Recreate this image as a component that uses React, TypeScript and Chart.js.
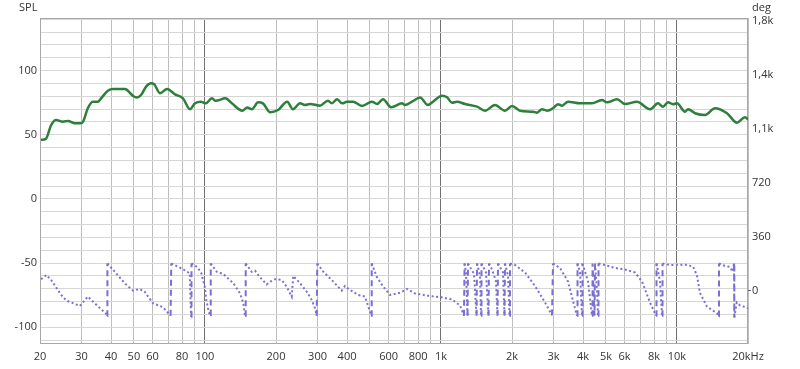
import React, { useEffect, useRef } from 'react';
import { Chart, registerables } from 'chart.js';

Chart.register(...registerables);

// SPL magnitude (dB) vs frequency (Hz)
const splFreq = [20.2, 21.2, 22.3, 23.4, 25, 26.3, 28.1, 29.8, 30.4, 31.9, 33.5, 35.2, 36.3, 38.8, 40.8, 45.8, 46.7, 49.6, 51.5, 53.6, 56.3, 59.1, 60.8, 64.5, 69.1, 74.7, 80.7, 86.4, 90.8, 96.2, 101, 107, 111, 122, 130, 144, 151, 158, 168, 176, 189, 204, 223, 236, 253, 265, 279, 307, 332, 345, 363, 381, 400, 424, 463, 510, 536, 568, 615, 684, 704, 754, 815, 881, 925, 1010, 1061, 1114, 1170, 1264, 1422, 1537, 1694, 1868, 2000, 2162, 2455, 2553, 2680, 2814, 2984, 3133, 3258, 3454, 3884, 4366, 4813, 5053, 5572, 6024, 6771, 7686, 8311, 8728, 9162, 9620, 10002, 10818, 11138, 11926, 13148, 14496, 16296, 17966, 19424, 20000];
const splDb = [46, 47, 57.6, 61.5, 60.2, 60.8, 59, 59, 60, 70.7, 75.8, 75.8, 78.4, 84.4, 85.7, 85.7, 85, 80.2, 79, 81, 87.5, 90.1, 89.6, 82.4, 85.7, 81.5, 78.4, 70, 74.5, 75.8, 74.5, 78.4, 76.5, 78.4, 74.5, 68.8, 71.2, 69.9, 75.3, 74.5, 67.5, 69.3, 75.8, 69.9, 74.5, 73.2, 74, 72.7, 76.6, 74.5, 77.7, 74.5, 75.8, 75.8, 72.5, 75.8, 74, 77.7, 71.5, 74.5, 73.2, 75.8, 79, 73.2, 75.8, 80.5, 79.2, 75, 75.8, 74, 71.9, 68.8, 73.2, 68.8, 72.5, 68.8, 68, 67.2, 69.9, 68.8, 70.7, 73.8, 72.7, 75.8, 74.5, 74.5, 77.1, 75.3, 77.7, 74, 75.8, 69.9, 74.5, 71.9, 75.3, 73.8, 74.5, 68, 69.9, 66.8, 65.4, 70.7, 66.8, 59.4, 63.7, 62];

// Phase (deg) vs frequency (Hz), wrapped
const phaseFreq = [20.2, 21.3, 22.3, 24.6, 25.9, 29.5, 31.9, 34.1, 38.2, 38.5, 38.6, 41.5, 45.7, 49.6, 52.9, 55.5, 60.2, 66.4, 71.5, 72.0, 79.4, 86.2, 87.3, 87.7, 90.5, 93.5, 96.5, 99.8, 101.3, 103.7, 105.1, 105.8, 112.2, 119.6, 131.9, 140.8, 145.4, 147.8, 148.8, 157.8, 162.9, 171.0, 182.6, 189.1, 198.1, 211.4, 222.0, 233.1, 236.8, 253.0, 269.9, 283.4, 292.7, 297.6, 299.2, 317.3, 349.8, 379.7, 392.2, 411.7, 446.5, 476.7, 500.5, 505.4, 508.9, 534.3, 569.8, 608, 670.6, 718, 776, 881, 1000, 1114, 1204, 1252, 1259, 1277, 1296, 1302, 1381, 1415, 1422, 1464, 1478, 1485, 1552, 1590, 1598, 1646, 1711, 1736, 1745, 1832, 1859, 1868, 1923, 1952, 1961, 2059, 2271, 2504, 2760, 2955, 2984, 3194, 3454, 3698, 3771, 3790, 3884, 3960, 3979, 4198, 4366, 4388, 4474, 4496, 4584, 4629, 4652, 4956, 5466, 6024, 6640, 7110, 7686, 8152, 8192, 8476, 8644, 8687, 9342, 10818, 11696, 12156, 12518, 13408, 14778, 15024, 15070, 15980, 16780, 17196, 17450, 17502, 17916, 18502, 19424, 20000];
const phaseDeg = [75, 103, 70, -30, -68, -103, -41, -85, -157, -170, 180, 125, 48, -1, 10, -8, -85, -112, -168, 180, 148, 115, -175, 180, 170, 148, 115, 25, -63, -141, -163, 180, 125, 110, 48, -19, -85, -168, 180, 125, 132, 88, 41, 59, 75, 70, 25, -41, 97, 48, -8, -63, -119, -168, 180, 125, 59, -1, 30, 3, -30, -41, -141, -168, 180, 92, 25, -30, -15, 10, -20, -35, -45, -60, -100, -168, 180, 120, -168, 180, 110, -168, 180, 100, -168, 180, 120, -168, 180, 140, 60, -168, 180, 120, -168, 180, 100, -168, 180, 170, 120, 30, -80, -165, 180, 150, 60, -120, -168, 180, 120, -168, 180, 60, -168, 180, -168, 180, 0, -168, 180, 170, 150, 140, 120, 60, -80, -168, 180, 60, -168, 180, 170, 172, 160, 100, -17, -108, -152, -172, 180, 163, 157, 125, 180, -180, -80, -100, -110, -120];

// Axis ticks
const freqTicks = [20, 30, 40, 50, 60, 70, 80, 90, 100, 200, 300, 400, 500, 600, 700, 800, 900, 1000, 2000, 3000, 4000, 5000, 6000, 7000, 8000, 9000, 10000, 20000];
const freqTickText = ['20', '30', '40', '50', '60', '', '80', '', '100', '200', '300', '400', '', '600', '', '800', '', '1k', '2k', '3k', '4k', '5k', '6k', '', '8k', '', '10k', '20kHz'];
const splTicks = [-110, -100, -90, -80, -70, -60, -50, -40, -30, -20, -10, 0, 10, 20, 30, 40, 50, 60, 70, 80, 90, 100, 110, 120, 130, 140];
const degTicks = [0, 360, 720, 1080, 1440, 1800];
const degTickText = ['0', '360', '720', '1,1k', '1,4k', '1,8k'];

const FONT = '"Open Sans", "Noto Sans", sans-serif';
const TEXT = '#333333';

const overlay = {
  id: 'overlay',
  beforeDatasetsDraw(chart: any) {
    const { ctx, chartArea: a } = chart;
    ctx.save();
    ctx.strokeStyle = '#a8a8a8';
    ctx.lineWidth = 1;
    ctx.strokeRect(a.left + 0.5, a.top + 0.5, a.right - a.left - 1, a.bottom - a.top - 1);
    ctx.restore();
  },
  afterDraw(chart: any) {
    const { ctx } = chart;
    ctx.save();
    ctx.font = `11px ${FONT}`;
    ctx.fillStyle = TEXT;
    ctx.textBaseline = 'middle';
    ctx.textAlign = 'left';
    ctx.fillText('SPL', 19, 8);
    ctx.fillText('deg', 752, 8);
    ctx.restore();
  },
};

export default function App() {
  const ref = useRef<HTMLCanvasElement | null>(null);

  useEffect(() => {
    document.body.style.margin = '0';
    const canvas = ref.current;
    if (!canvas) return;
    const chart = new Chart(canvas, {
      type: 'line',
      data: {
        datasets: [
          {
            label: 'SPL',
            data: splFreq.map((f, i) => ({ x: f, y: splDb[i] })),
            yAxisID: 'y',
            borderColor: '#2e7f3b',
            borderWidth: 2.5,
            pointRadius: 0,
            tension: 0.4,
            cubicInterpolationMode: 'monotone',
            fill: false,
          },
          {
            label: 'Phase',
            data: phaseFreq.map((f, i) => ({ x: f, y: phaseDeg[i] })),
            yAxisID: 'y1',
            borderColor: '#7a6fd3',
            borderWidth: 2,
            pointRadius: 0,
            tension: 0,
            fill: false,
            segment: {
              borderDash: (c: any) =>
                Math.abs(c.p1.parsed.y - c.p0.parsed.y) > 300 ? [6, 4] : [2, 2.5],
            },
          },
        ],
      } as any,
      options: {
        responsive: false,
        animation: false,
        layout: { padding: { top: 18, left: 0, right: 0, bottom: 0 } },
        plugins: {
          legend: { display: false },
          tooltip: { enabled: false },
        },
        scales: {
          x: {
            type: 'logarithmic',
            min: 20,
            max: 20000,
            afterBuildTicks: (s: any) => {
              s.ticks = freqTicks.map((v) => ({ value: v }));
            },
            afterFit: (s: any) => {
              s.height = 25;
            },
            border: { display: false },
            grid: {
              drawTicks: false,
              color: (c: any) => {
                const v = c.tick ? c.tick.value : 0;
                return v === 100 || v === 1000 || v === 10000 ? '#707070' : '#bdbdbd';
              },
              lineWidth: 1,
            },
            ticks: {
              autoSkip: false,
              maxRotation: 0,
              minRotation: 0,
              padding: 6,
              color: TEXT,
              font: { family: FONT, size: 11 },
              callback: (_v: any, i: number) => freqTickText[i] ?? '',
            },
          },
          y: {
            type: 'linear',
            position: 'left',
            min: -113,
            max: 141,
            afterBuildTicks: (s: any) => {
              s.ticks = splTicks.map((v) => ({ value: v }));
            },
            afterFit: (s: any) => {
              s.width = 40;
            },
            border: { display: false },
            grid: { drawTicks: false, color: '#d6d6d6', lineWidth: 1 },
            ticks: {
              autoSkip: false,
              padding: 3,
              color: TEXT,
              font: { family: FONT, size: 11 },
              callback: (_v: any, i: number) => (splTicks[i] % 50 === 0 ? String(splTicks[i]) : ''),
            },
          },
          y1: {
            type: 'linear',
            position: 'right',
            min: -357,
            max: 1817,
            afterBuildTicks: (s: any) => {
              s.ticks = degTicks.map((v) => ({ value: v }));
            },
            afterFit: (s: any) => {
              s.width = 52;
            },
            border: { display: false },
            grid: {
              drawOnChartArea: false,
              drawTicks: true,
              tickLength: 3,
              tickColor: (c: any) => (c.tick && c.tick.value === 0 ? '#666666' : 'rgba(0,0,0,0)'),
            },
            ticks: {
              autoSkip: false,
              padding: 1,
              color: TEXT,
              font: { family: FONT, size: 11 },
              callback: (_v: any, i: number) => degTickText[i] ?? '',
            },
          },
        },
      } as any,
      plugins: [overlay],
    });
    return () => chart.destroy();
  }, []);

  return (
    <div style={{ position: 'absolute', left: 0, top: 0, width: 800, height: 369, background: '#fff' }}>
      <canvas ref={ref} width={800} height={369} style={{ display: 'block' }} />
    </div>
  );
}
